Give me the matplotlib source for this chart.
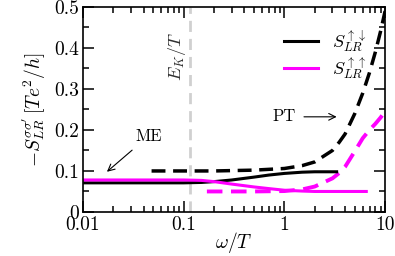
"""
Shot noise S_LR vs omega/T, ME and PT curves
"""
import numpy as np
import matplotlib

matplotlib.use("Agg")
import matplotlib.pyplot as plt  # noqa:E402
from matplotlib.ticker import FixedLocator, FixedFormatter  # noqa:E402

# ME (solid) curves
w_me_ud = [0.01, 0.05, 0.1, 0.15, 0.2, 0.3, 0.5, 0.7, 1.0, 1.5, 2.0, 3.0, 3.3]
s_me_ud = [0.071, 0.071, 0.071, 0.072, 0.074, 0.078, 0.085, 0.090, 0.094, 0.097, 0.098, 0.098, 0.098]
w_me_uu = [0.01, 0.05, 0.1, 0.15, 0.2, 0.3, 0.5, 0.7, 1.0, 1.5, 2.0, 3.0, 6.5]
s_me_uu = [0.078, 0.078, 0.078, 0.077, 0.074, 0.068, 0.061, 0.057, 0.053, 0.051, 0.050, 0.050, 0.050]

# PT (dashed) curves
w_pt_ud = [0.048, 0.1, 0.2, 0.5, 1.0, 1.5, 2.0, 3.0, 3.5, 4.0, 5.0, 6.0, 7.0, 8.0, 9.0, 10.0]
s_pt_ud = [0.100, 0.100, 0.100, 0.102, 0.106, 0.113, 0.122, 0.150, 0.170, 0.190, 0.240, 0.290, 0.340, 0.390, 0.440, 0.490]
w_pt_uu = [0.17, 0.3, 0.5, 1.0, 1.5, 2.0, 3.0, 3.5, 4.0, 5.0, 6.0, 7.0, 8.0, 9.0, 10.0]
s_pt_uu = [0.050, 0.050, 0.050, 0.051, 0.055, 0.062, 0.082, 0.095, 0.110, 0.148, 0.180, 0.200, 0.215, 0.230, 0.245]

e_k = 0.115

plt.rcParams["font.family"] = "serif"
plt.rcParams["font.serif"] = ["cmr10"]
plt.rcParams["mathtext.fontset"] = "cm"
plt.rcParams["axes.formatter.use_mathtext"] = True


def main():
    fig = plt.figure(figsize=(3.95, 2.56), dpi=100)
    ax = fig.add_axes([0.21, 0.172, 0.765, 0.801])

    ax.axvline(e_k, color="#d0d0d0", lw=2, ls=(0, (4, 2.5)), zorder=1)
    ax.text(0.086, 0.38, r"$E_K/T$", rotation=90, fontsize=13, color="#303030",
            ha="center", va="center")

    ax.plot(w_pt_ud, s_pt_ud, color="black", lw=2.5, ls=(0, (4, 2.2)))
    ax.plot(w_pt_uu, s_pt_uu, color="magenta", lw=2.8, ls=(0, (4, 2.2)))
    ax.plot(w_me_ud, s_me_ud, color="black", lw=2.2, label=r"$S_{LR}^{\uparrow\downarrow}$")
    ax.plot(w_me_uu, s_me_uu, color="magenta", lw=2.2, label=r"$S_{LR}^{\uparrow\uparrow}$")

    ax.annotate("ME", xy=(0.0173, 0.098), xytext=(0.033, 0.185), fontsize=12,
                ha="left", va="center",
                arrowprops=dict(arrowstyle="->", lw=0.8, color="black",
                                shrinkA=4, shrinkB=0))
    ax.annotate("PT", xy=(3.3, 0.232), xytext=(0.76, 0.232), fontsize=12,
                ha="left", va="center",
                arrowprops=dict(arrowstyle="->", lw=0.8, color="black",
                                shrinkA=4, shrinkB=0))

    ax.set_xscale("log")
    ax.set_xlim(0.01, 10)
    ax.set_ylim(0, 0.5)
    ax.xaxis.set_major_locator(FixedLocator([0.01, 0.1, 1, 10]))
    ax.xaxis.set_major_formatter(FixedFormatter(["0.01", "0.1", "1", "10"]))
    ax.set_yticks([0, 0.1, 0.2, 0.3, 0.4, 0.5])
    ax.set_yticklabels(["0", "0.1", "0.2", "0.3", "0.4", "0.5"])
    ax.set_yticks([0.05, 0.15, 0.25, 0.35, 0.45], minor=True)
    ax.tick_params(which="both", direction="in", top=True, right=True,
                   labelsize=14, width=1.1, pad=3)
    ax.tick_params(which="major", length=8)
    ax.tick_params(which="minor", length=4)
    for spine in ax.spines.values():
        spine.set_linewidth(1.2)

    ax.set_xlabel(r"$\omega/T$", fontsize=14, labelpad=-3)
    ax.set_ylabel(r"$-S_{LR}^{\sigma\sigma'}\,[Te^2/h]$", fontsize=14, labelpad=4)

    ax.legend(loc="upper right", bbox_to_anchor=(0.98, 0.96), frameon=False,
              fontsize=13, handlelength=1.9, labelspacing=0.1, borderpad=0.2)

    fig.savefig("out.png", dpi=100)
    plt.close(fig)


if __name__ == "__main__":
    main()
